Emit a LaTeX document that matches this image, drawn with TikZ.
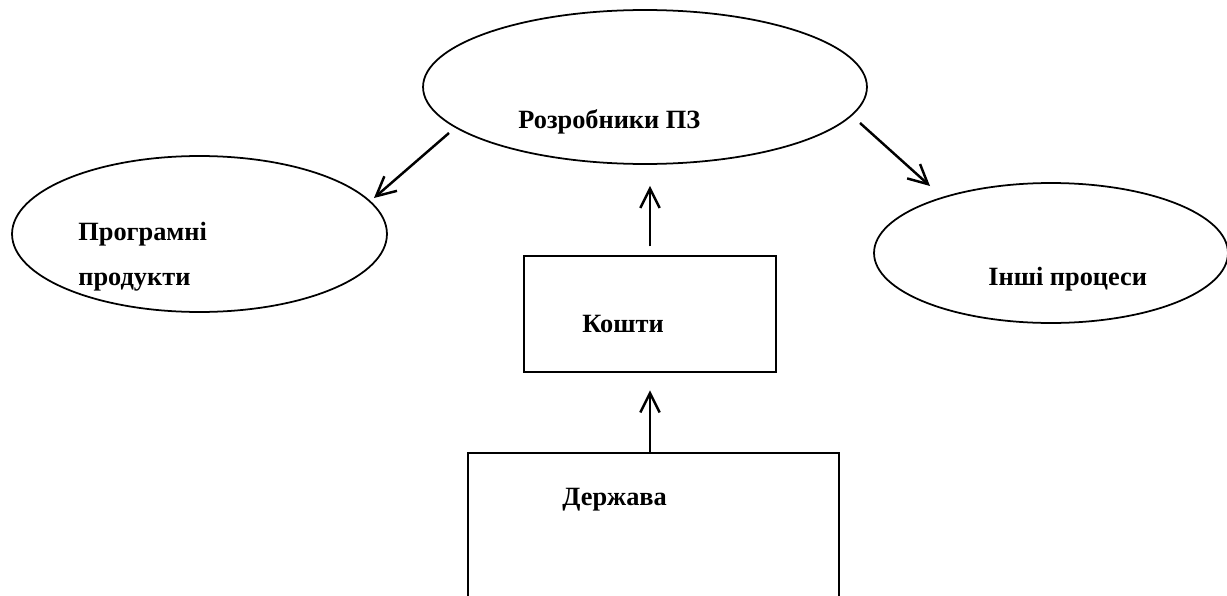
\documentclass[tikz,border=0pt]{standalone}
\usepackage{fontspec}
\setmainfont{Liberation Serif}
\usetikzlibrary{arrows.meta,shapes.geometric}

\begin{document}
\begin{tikzpicture}[x=0.02cm,y=-0.02cm]
\tikzset{oval/.style = {shape=ellipse,draw,line width=1pt,inner sep=0pt}}
\tikzset{box/.style = {shape=rectangle,draw,line width=1pt,inner sep=0pt}}
\tikzset{edge/.style = {-{Straight Barb[length=11pt,width=11pt]},line width=1.4pt}}
\tikzset{lbl/.style = {anchor=base west,inner sep=0pt,font=\fontsize{15}{18}\selectfont\bfseries}}
\useasboundingbox (0,0) rectangle (1227,595);
\node[oval,minimum width=8.88cm,minimum height=3.08cm] (razr) at (645,87) {};
\node[oval,minimum width=7.5cm,minimum height=3.12cm] (prog) at (199.5,234) {};
\node[oval,minimum width=7.08cm,minimum height=2.8cm] (inshi) at (1051,253) {};
\node[box,minimum width=5.04cm,minimum height=2.32cm] (koshty) at (650,314) {};
\node[box,minimum width=7.42cm,minimum height=3.4cm] (derzh) at (653.5,538) {};
\node[lbl] (razr-t) at (518,128) {Розробники ПЗ};
\node[lbl] (prog-t1) at (78,240) {Програмні};
\node[lbl] (prog-t2) at (78,285) {продукти};
\node[lbl] (inshi-t) at (988,285) {Інші процеси};
\node[lbl] (koshty-t) at (582,332) {Кошти};
\node[lbl] (derzh-t) at (562,505) {Держава};
\coordinate (l1) at (449,133);
\coordinate (l2) at (374,198);
\coordinate (r1) at (860,123);
\coordinate (r2) at (930,186);
\draw[edge] (l1) -- (l2);
\draw[edge] (r1) -- (r2);
\draw[edge,shorten <=5pt,shorten >=12pt] (koshty.north) -- (koshty.north |- razr.south);
\draw[edge,shorten >=10pt] (koshty.south |- derzh.north) -- (koshty.south);
\end{tikzpicture}
\end{document}
